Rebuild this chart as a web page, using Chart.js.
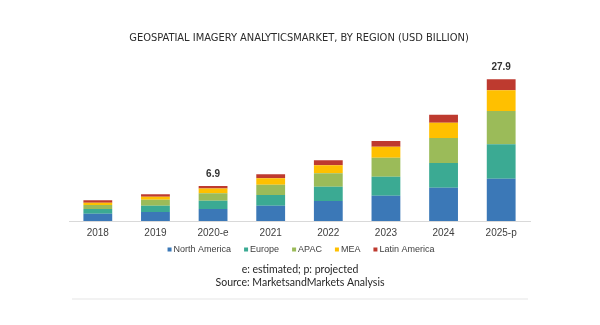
<!DOCTYPE html>
<html>
<head>
<meta charset="utf-8">
<script src="https://cdn.jsdelivr.net/npm/chart.js@4.4.0/dist/chart.umd.min.js"></script>
<style>
  html, body { margin: 0; padding: 0; background: #ffffff; }
  #wrap { width: 600px; height: 325px; position: relative; }
</style>
</head>
<body>
<div id="wrap"><canvas id="c" width="600" height="325"></canvas></div>
<script>
// ---- Data ----
const categories = ["2018", "2019", "2020-e", "2021", "2022", "2023", "2024", "2025-p"];
const northAmerica = [1.44, 1.77, 2.35, 3.01, 3.94, 4.98, 6.55, 8.33];
const europe       = [0.92, 1.24, 1.62, 2.10, 2.82, 3.74, 4.86, 6.78];
const apac         = [0.79, 1.18, 1.50, 2.03, 2.64, 3.74, 4.92, 6.55];
const mea          = [0.45, 0.59, 0.92, 1.26, 1.57, 2.17, 3.02, 4.07];
const latinAmerica = [0.47, 0.47, 0.51, 0.79, 0.98, 1.12, 1.57, 2.17];
const totalLabels  = ["", "", "6.9", "", "", "", "", "27.9"];
const seriesNames  = ["North America", "Europe", "APAC", "MEA", "Latin America"];

const titleText = "GEOSPATIAL IMAGERY ANALYTICSMARKET, BY REGION (USD BILLION)";
const footLines = ["e: estimated; p: projected", "Source: MarketsandMarkets Analysis"];

const colors = ["#3B78B7", "#3BAA93", "#9BBB59", "#FFC000", "#BE3A2F"];
const seriesData = [northAmerica, europe, apac, mea, latinAmerica];

const decorPlugin = {
  id: "decor",
  afterDraw(chart) {
    const ctx = chart.ctx;
    ctx.save();
    // Title
    ctx.fillStyle = "#2b2b2b";
    ctx.font = "11px 'Liberation Sans Narrow', 'DejaVu Sans Condensed', 'Liberation Sans', sans-serif";
    ctx.textAlign = "center";
    ctx.textBaseline = "middle";
    ctx.fillText(titleText, 299, 38);

    // Total labels
    const xs = chart.scales.x, ys = chart.scales.y;
    ctx.font = "bold 10px 'Liberation Sans', Arial, sans-serif";
    ctx.fillStyle = "#333333";
    categories.forEach((c, i) => {
      if (!totalLabels[i]) return;
      let sum = 0;
      seriesData.forEach(s => sum += s[i]);
      ctx.fillText(totalLabels[i], xs.getPixelForValue(i), ys.getPixelForValue(sum) - 12);
    });

    // Legend
    ctx.font = "9px 'Liberation Sans', Arial, sans-serif";
    ctx.textAlign = "left";
    const box = 4, gapBT = 2, gapItem = 13;
    const widths = seriesNames.map(n => box + gapBT + ctx.measureText(n).width);
    const total = widths.reduce((a, b) => a + b, 0) + gapItem * (widths.length - 1);
    let x = 301 - total / 2;
    const ly = 249.5;
    chart.data.datasets.forEach((ds, i) => {
      ctx.fillStyle = ds.backgroundColor;
      ctx.fillRect(x, ly - box / 2, box, box);
      ctx.fillStyle = "#404040";
      ctx.fillText(ds.label, x + box + gapBT, ly);
      x += widths[i] + gapItem;
    });

    // Footnotes
    ctx.textAlign = "center";
    ctx.fillStyle = "#262626";
    ctx.font = "10.5px Lato, 'Liberation Sans', sans-serif";
    ctx.fillText(footLines[0], 300, 270);
    ctx.fillText(footLines[1], 300, 283);

    // Bottom separator
    ctx.fillStyle = "#f2f2f2";
    ctx.fillRect(72, 298, 456, 2);
    ctx.restore();
  }
};

new Chart(document.getElementById("c"), {
  type: "bar",
  data: {
    labels: categories,
    datasets: seriesData.map((d, i) => ({
      label: seriesNames[i],
      data: d,
      backgroundColor: colors[i],
      borderWidth: 0,
      barPercentage: 0.5,
      categoryPercentage: 1.0
    }))
  },
  options: {
    responsive: false,
    animation: false,
    devicePixelRatio: 1,
    layout: { padding: { left: 69, right: 70, top: 68.6, bottom: 80 } },
    plugins: {
      legend: { display: false },
      title: { display: false },
      tooltip: { enabled: false }
    },
    scales: {
      x: {
        stacked: true,
        grid: { display: false, drawTicks: false },
        border: { display: true, color: "#d9d9d9", width: 1 },
        ticks: {
          padding: 6,
          color: "#404040",
          font: { family: "'Liberation Sans', Arial, sans-serif", size: 10 },
          maxRotation: 0
        }
      },
      y: {
        stacked: true,
        display: false,
        min: 0,
        max: 30
      }
    }
  },
  plugins: [decorPlugin]
});
</script>
</body>
</html>
